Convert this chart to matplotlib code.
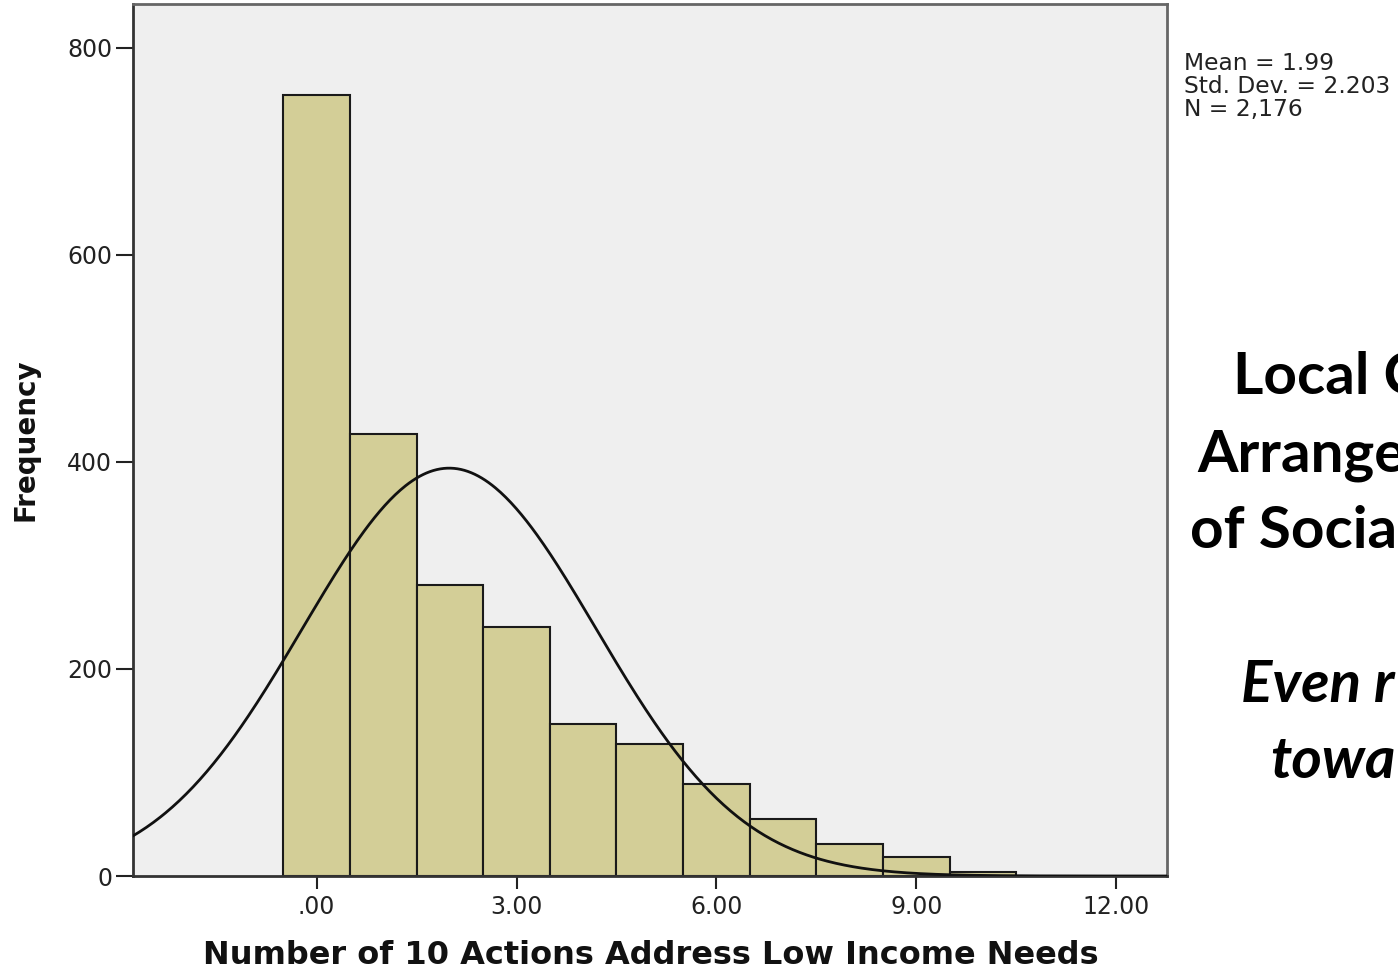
import numpy as np
import matplotlib
matplotlib.use("Agg")
import matplotlib.pyplot as plt

# Histogram counts for 0..10 actions (bin width 1, centred on integers)
actions = [0, 1, 2, 3, 4, 5, 6, 7, 8, 9, 10]
frequency = [755, 427, 281, 241, 147, 128, 89, 55, 31, 18, 4]

mean_val = 1.99
std_val = 2.203
n_val = 2176

x_ticks = [0, 3, 6, 9, 12]
x_tick_labels = [".00", "3.00", "6.00", "9.00", "12.00"]
y_ticks = [0, 200, 400, 600, 800]

side_lines = ["Local C", "Arrange", "of Socia"]
side_italic = ["Even r", "towa"]

W, H = 1398, 974
fig = plt.figure(figsize=(W / 100, H / 100), dpi=100)
ax = fig.add_axes([133 / W, 1 - 876 / H, (1167 - 133) / W, (876 - 4) / H])
ax.set_facecolor("#efefef")

ax.bar(actions, frequency, width=1.0, align="center",
       color="#d3ce97", edgecolor="#1a1a1a", linewidth=1.5, zorder=2)

# Normal curve scaled to counts
xs = np.linspace(-2.76, 12.77, 600)
pdf = np.exp(-0.5 * ((xs - mean_val) / std_val) ** 2) / (std_val * np.sqrt(2 * np.pi))
ax.plot(xs, n_val * 1.0 * pdf, color="#111111", linewidth=2.0, zorder=3)

ax.set_xlim(-2.754, 12.76)
ax.set_ylim(0, 842.5)

ax.set_xticks(x_ticks)
ax.set_xticklabels(x_tick_labels)
ax.set_yticks(y_ticks)
ax.tick_params(axis="y", length=12, width=1.5, color="#222222",
               labelsize=17, labelcolor="#222222", pad=3)
ax.tick_params(axis="x", length=9, width=1.5, color="#222222",
               labelsize=17, labelcolor="#222222", pad=5)

for side, sp in ax.spines.items():
    sp.set_linewidth(2.0)
    sp.set_color("#333333")
ax.spines["top"].set_color("#666666")
ax.spines["right"].set_color("#666666")

# Axis titles
fig.text(651 / W, 1 - 956 / H, "Number of 10 Actions Address Low Income Needs",
         ha="center", va="center", fontsize=23, fontweight="bold",
         color="#111111")
fig.text(25 / W, 1 - 440 / H, "Frequency", ha="center", va="center",
         rotation=90, fontsize=20, fontweight="bold", color="#111111")

# Summary statistics beside the plot
stats = f"Mean = {mean_val:.2f}\nStd. Dev. = {std_val:.3f}\nN = {n_val:,}"
fig.text(1184 / W, 1 - 52 / H, stats, ha="left", va="top",
         fontsize=16.8, color="#222222", linespacing=1.0)

# Slide text running off the right edge
ys_bold = [378, 455, 531]
xs_bold = [1233, 1197, 1190]
for t, xp, yp in zip(side_lines, xs_bold, ys_bold):
    fig.text(xp / W, 1 - yp / H, t, ha="left", va="center",
             fontsize=42, fontweight="bold", family="Lato", color="black")
ys_it = [686, 762]
xs_it = [1241, 1270]
for t, xp, yp in zip(side_italic, xs_it, ys_it):
    fig.text(xp / W, 1 - yp / H, t, ha="left", va="center",
             fontsize=42, fontweight="bold", style="italic", family="Lato",
             color="black")

fig.savefig("out.png", dpi=100, facecolor="white")
